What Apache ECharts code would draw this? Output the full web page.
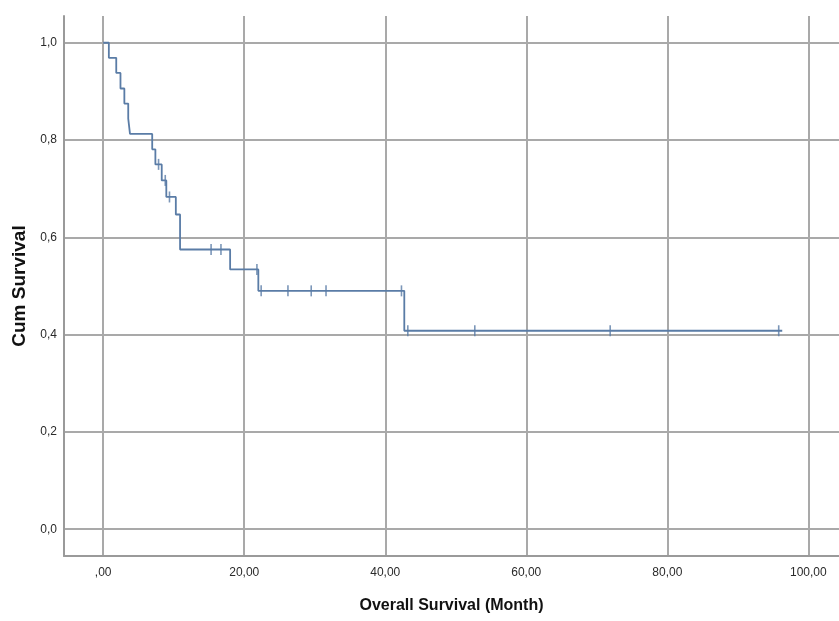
<!DOCTYPE html>
<html>
<head>
<meta charset="utf-8">
<script src="https://cdn.jsdelivr.net/npm/echarts@6/dist/echarts.min.js"></script>
<style>
html,body{margin:0;padding:0;background:#fff;}
#chart{width:839px;height:621px;}
</style>
</head>
<body>
<div id="chart"></div>
<script>
// Kaplan-Meier step curve: event times (months) and survival after each step
var stepTimes = [0, 0.8, 1.85, 2.45, 3.0, 3.55, 3.8, 6.95, 7.4, 8.3, 8.95, 10.3, 10.9, 18.0, 22.0, 42.7, 96.3];
var stepSurv  = [1.0, 0.969, 0.938, 0.906, 0.875, 0.844, 0.8125, 0.781, 0.75, 0.717, 0.683, 0.647, 0.575, 0.534, 0.490, 0.408, 0.408];
// Censored observations
var censorTimes = [7.85, 8.8, 9.4, 15.3, 16.7, 21.8, 22.4, 26.2, 29.5, 31.6, 42.3, 43.2, 52.7, 71.9, 95.8];
var censorSurv  = [0.75, 0.717, 0.683, 0.575, 0.575, 0.534, 0.490, 0.490, 0.490, 0.490, 0.490, 0.408, 0.408, 0.408, 0.408];
// Tick values
var xTicks = [0, 20, 40, 60, 80, 100];
var yTicks = [0, 0.2, 0.4, 0.6, 0.8, 1.0];

var stepData = stepTimes.map(function (t, i) { return [t, stepSurv[i]]; });
var censorData = censorTimes.map(function (t, i) { return [t, censorSurv[i]]; });

var gridColor = '#a9a9a9';
var chart = echarts.init(document.getElementById('chart'), null, {renderer: 'canvas'});
chart.setOption({
  animation: false,
  backgroundColor: '#ffffff',
  grid: {left: 64, right: 0, top: 16, bottom: 65, containLabel: false},
  xAxis: {
    type: 'value',
    min: -5.56, max: 104.35,
    name: 'Overall Survival (Month)',
    nameLocation: 'middle',
    nameGap: 42,
    nameTextStyle: {fontFamily: 'Liberation Sans, Arial, sans-serif', fontSize: 16, fontWeight: 'bold', color: '#111'},
    axisLine: {show: true, onZero: false, lineStyle: {color: '#9a9a9a', width: 2}},
    axisTick: {show: false, customValues: xTicks},
    axisLabel: {
      customValues: xTicks,
      margin: 11,
      fontFamily: 'Liberation Sans, Arial, sans-serif', fontSize: 12, color: '#2a2a2a',
      formatter: function (v) { return v === 0 ? ',00' : v.toFixed(2).replace('.', ','); }
    },
    splitLine: {show: true, lineStyle: {color: gridColor, width: 2}}
  },
  yAxis: {
    type: 'value',
    min: -0.055, max: 1.055,
    name: 'Cum Survival',
    nameLocation: 'middle',
    nameGap: 33,
    nameRotate: 90,
    nameTextStyle: {fontFamily: 'Liberation Sans, Arial, sans-serif', fontSize: 19, fontWeight: 'bold', color: '#111'},
    axisLine: {show: true, onZero: false, lineStyle: {color: '#9a9a9a', width: 2}},
    axisTick: {show: false, customValues: yTicks},
    axisLabel: {
      customValues: yTicks,
      margin: 7,
      fontFamily: 'Liberation Sans, Arial, sans-serif', fontSize: 12, color: '#2a2a2a',
      formatter: function (v) { return v.toFixed(1).replace('.', ','); }
    },
    splitLine: {show: true, lineStyle: {color: gridColor, width: 2}}
  },
  series: [
    {
      type: 'line',
      step: 'end',
      data: stepData,
      symbol: 'none',
      lineStyle: {color: '#5a7ca6', width: 1.8},
      z: 3
    },
    {
      type: 'scatter',
      data: censorData,
      symbol: 'rect',
      symbolSize: [1.6, 11],
      itemStyle: {color: '#5a7ca6'},
      z: 4
    }
  ]
});
</script>
</body>
</html>
